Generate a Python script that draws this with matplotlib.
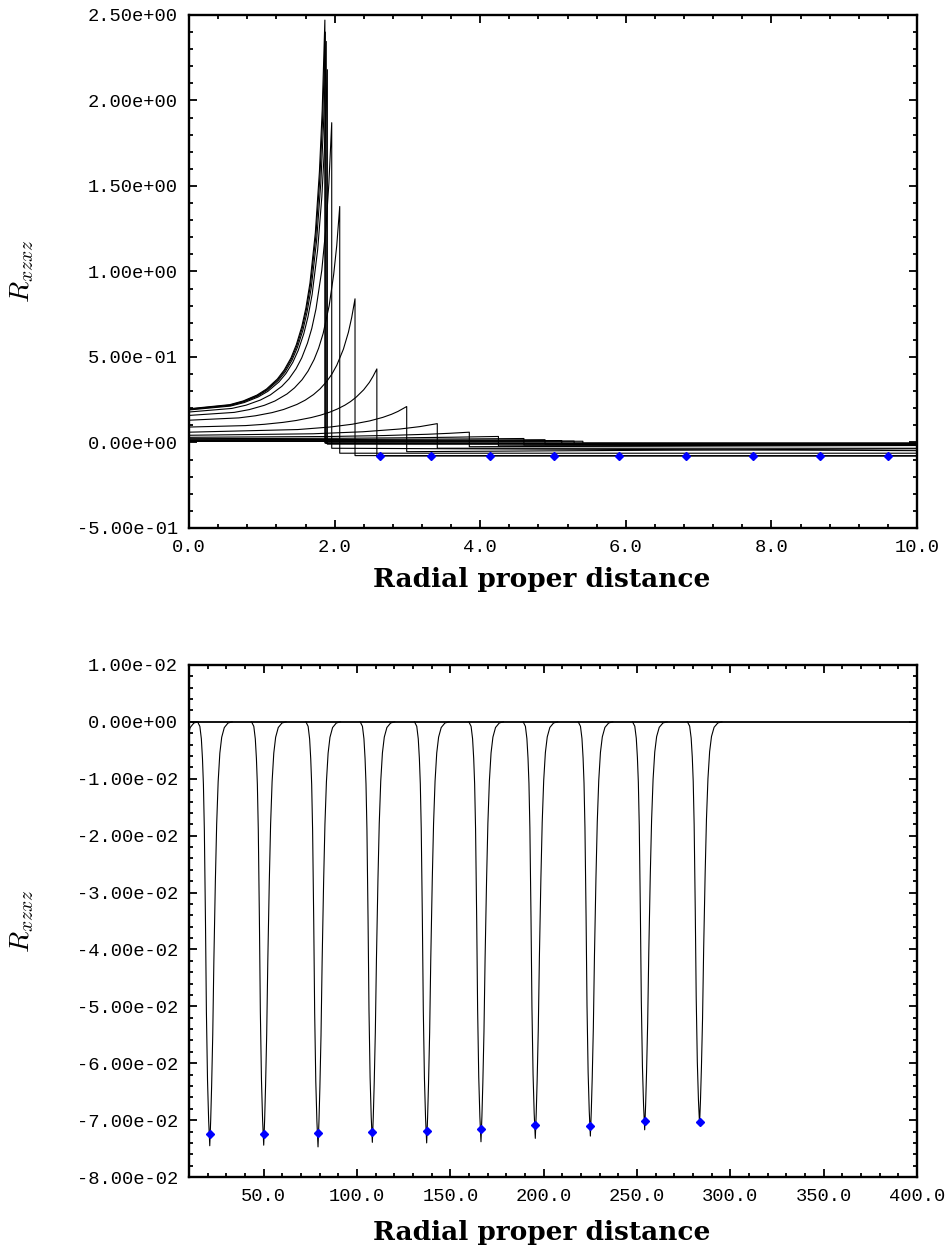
import matplotlib
matplotlib.use("Agg")
import matplotlib.pyplot as plt
from matplotlib.ticker import MultipleLocator, FormatStrFormatter

# ---------------- data: top panel (compact configurations) ----------------
inner_x = [
    [0, .560, .746, .933, 1.064, 1.213, 1.306, 1.400, 1.474, 1.549, 1.605, 1.661, 1.735, 1.791, 1.829, 1.866],
    [0, .562, .749, .936, 1.067, 1.217, 1.310, 1.404, 1.479, 1.554, 1.610, 1.666, 1.741, 1.797, 1.835, 1.872],
    [0, .566, .754, .943, 1.074, 1.225, 1.320, 1.414, 1.489, 1.565, 1.621, 1.678, 1.753, 1.810, 1.847, 1.885],
    [0, .570, .760, .950, 1.083, 1.235, 1.330, 1.425, 1.501, 1.577, 1.634, 1.691, 1.767, 1.824, 1.862, 1.900],
    [0, .588, .784, .980, 1.117, 1.274, 1.372, 1.470, 1.548, 1.627, 1.686, 1.744, 1.823, 1.882, 1.921, 1.960],
    [0, .621, .828, 1.035, 1.180, 1.346, 1.449, 1.553, 1.635, 1.718, 1.780, 1.842, 1.925, 1.987, 2.029, 2.070],
    [0, .684, .912, 1.140, 1.300, 1.482, 1.596, 1.710, 1.801, 1.892, 1.961, 2.029, 2.120, 2.189, 2.234, 2.280],
    [0, .774, 1.032, 1.290, 1.471, 1.677, 1.806, 1.935, 2.038, 2.141, 2.219, 2.296, 2.399, 2.477, 2.528, 2.580],
    [0, 1.495, 1.944, 2.243, 2.482, 2.661, 2.781, 2.870, 2.990],
    [0, 1.705, 2.387, 2.899, 3.171, 3.410],
    [0, 1.925, 2.695, 3.273, 3.581, 3.850],
    [0, 2.125, 2.975, 3.613, 4.250],
    [0, 2.300, 3.220, 3.910, 4.600],
    [0, 2.445, 3.423, 4.157, 4.890],
    [0, 2.560, 3.580, 4.350, 5.120],
    [0, 2.650, 4.500, 5.290],
    [0, 2.700, 4.600, 5.410],
]
inner_y = [
    [.197, .221, .243, .277, .3124, .371, .423, .494, .572, .678, .786, .932, 1.227, 1.584, 1.941, 2.470],
    [.195, .2185, .2403, .274, .3087, .366, .4176, .487, .5634, .667, .7735, .916, 1.202, 1.548, 1.893, 2.400],
    [.193, .216, .2377, .271, .3053, .362, .4125, .481, .5559, .658, .762, .902, 1.183, 1.518, 1.854, 2.345],
    [.190, .2127, .2335, .266, .2991, .354, .4025, .468, .5396, .637, .735, .866, 1.128, 1.436, 1.740, 2.180],
    [.178, .1989, .218, .248, .278, .328, .3716, .431, .4946, .581, .6667, .781, 1.005, 1.264, 1.516, 1.870],
    [.158, .1758, .1921, .2172, .2424, .2836, .3194, .367, .4176, .485, .5511, .637, .800, .983, 1.152, 1.380],
    [.130, .1436, .1559, .1744, .1929, .2223, .2473, .280, .3138, .357, .3989, .451, .545, .644, .730, .840],
    [.090, .0985, .106, .1173, .1283, .1454, .1595, .1775, .1957, .218, .2392, .265, .308, .351, .387, .430],
    [.060, .0754, .0904, .1066, .126, .1465, .1646, .1814, .210],
    [.042, .0507, .0624, .0787, .0926, .110],
    [.030, .0347, .0405, .0478, .0535, .060],
    [.022, .0245, .0272, .0305, .035],
    [.016, .0175, .0192, .0208, .023],
    [.012, .0128, .0137, .0147, .016],
    [.009, .0094, .0099, .0104, .011],
    [.007, .0072, .0076, .008],
    [.006, .0062, .0066, .007],
]
drop_bottom = [-0.002, -0.004, -0.006, -0.010, -0.034, -0.063, -0.077, -0.079,
               -0.054, -0.034, -0.025, -0.020, -0.015, -0.010, -0.008, -0.006, -0.006]
far_value = [-0.004, -0.006, -0.008, -0.012, -0.048, -0.063, -0.077, -0.080,
             -0.037, -0.034, -0.018, -0.015, -0.012, -0.008, -0.006, -0.005, -0.005]
top_far_x = 10.0

top_dot_x = [2.62, 3.33, 4.14, 5.01, 5.91, 6.83, 7.75, 8.67, 9.60]
top_dot_y = [-0.080, -0.080, -0.080, -0.080, -0.080, -0.080, -0.080, -0.080, -0.080]

# ---------------- data: bottom panel (dilute configurations) ----------------
dip_centers = [2.8, 21.1, 50.0, 79.1, 108.2, 137.3, 166.4, 195.5, 225.0, 254.1, 283.5]
dip_tips = [-0.0745, -0.0745, -0.0744, -0.0747, -0.0739, -0.0740, -0.0738,
            -0.0732, -0.0728, -0.0717, -0.0707]
dip_dx = [-6.5, -5.3, -4.5, -3.9, -3.4, -2.9, -2.3, -1.8, -1.2, -0.6, 0.0,
          0.5, 1.0, 1.6, 2.2, 3.0, 3.7, 4.5, 5.4, 6.4, 7.8, 9.8, 12.0]
dip_shape = [0.0, -0.0008, -0.003, -0.0065, -0.011, -0.019, -0.035, -0.051,
             -0.063, -0.070, -0.0745, -0.070, -0.064, -0.055, -0.042, -0.028,
             -0.018, -0.0105, -0.0055, -0.0027, -0.001, -0.0002, 0.0]
dip_shape_ref = -0.0745
zero_line_x = [10.0, 400.0]
zero_line_y = [0.0, 0.0]

bot_dot_x = [21.1, 50.0, 79.1, 108.2, 137.3, 166.4, 195.5, 225.0, 254.1, 283.5]
bot_dot_y = [-0.0725, -0.0724, -0.0723, -0.0720, -0.0719, -0.0715, -0.0708,
             -0.0711, -0.0702, -0.0703]

# ---------------- figure ----------------
plt.rcParams['mathtext.fontset'] = 'cm'
fig = plt.figure(figsize=(9.49, 12.57), dpi=100)
ax1 = fig.add_axes([0.1992, 0.5800, 0.7671, 0.4081])
ax2 = fig.add_axes([0.1992, 0.0636, 0.7671, 0.4074])

for xs, ys, yb, yf in zip(inner_x, inner_y, drop_bottom, far_value):
    px = list(xs) + [xs[-1], top_far_x]
    py = list(ys) + [yb, yf]
    ax1.plot(px, py, color='black', lw=0.8)
ax1.plot(top_dot_x, top_dot_y, ls='none', marker='D', color='#0000ff', ms=4.5)

ax2.plot(zero_line_x, zero_line_y, color='black', lw=1.3)
for c, t in zip(dip_centers, dip_tips):
    px = [c + d for d in dip_dx]
    py = [v * t / dip_shape_ref for v in dip_shape]
    ax2.plot(px, py, color='black', lw=0.8)
ax2.plot(bot_dot_x, bot_dot_y, ls='none', marker='D', color='#0000ff', ms=4.5)

ax1.set_xlim(0, 10)
ax1.set_ylim(-0.5, 2.5)
ax1.xaxis.set_major_locator(MultipleLocator(2.0))
ax1.xaxis.set_minor_locator(MultipleLocator(0.4))
ax1.yaxis.set_major_locator(MultipleLocator(0.5))
ax1.yaxis.set_minor_locator(MultipleLocator(0.1))

ax2.set_xlim(10, 400)
ax2.set_ylim(-0.08, 0.01)
ax2.xaxis.set_major_locator(MultipleLocator(50))
ax2.xaxis.set_minor_locator(MultipleLocator(10))
ax2.yaxis.set_major_locator(MultipleLocator(0.01))
ax2.yaxis.set_minor_locator(MultipleLocator(0.002))

for ax, xlab_y in ((ax1, -0.101), (ax2, -0.109)):
    ax.xaxis.set_major_formatter(FormatStrFormatter('%.1f'))
    ax.yaxis.set_major_formatter(FormatStrFormatter('%.2e'))
    ax.tick_params(which='both', direction='in', top=True, right=True, width=1.3)
    ax.tick_params(which='major', length=5.5)
    ax.tick_params(which='minor', length=3)
    ax.tick_params(axis='x', which='major', pad=8)
    ax.tick_params(axis='y', which='major', pad=8)
    for lab in ax.get_xticklabels() + ax.get_yticklabels():
        lab.set_fontfamily('Liberation Mono')
        lab.set_fontsize(13.5)
    for sp in ax.spines.values():
        sp.set_linewidth(1.7)
    ax.set_xlabel('Radial proper distance', fontsize=19, fontweight='bold',
                  fontfamily='DejaVu Serif')
    ax.xaxis.set_label_coords(0.485, xlab_y)
    ax.xaxis.label.set_va('center')
    ax.set_ylabel(r'$R_{xzxz}$', fontsize=20)
    ax.yaxis.set_label_coords(-0.229, 0.5)
    ax.yaxis.label.set_va('center')

fig.savefig('out.png', dpi=100)
